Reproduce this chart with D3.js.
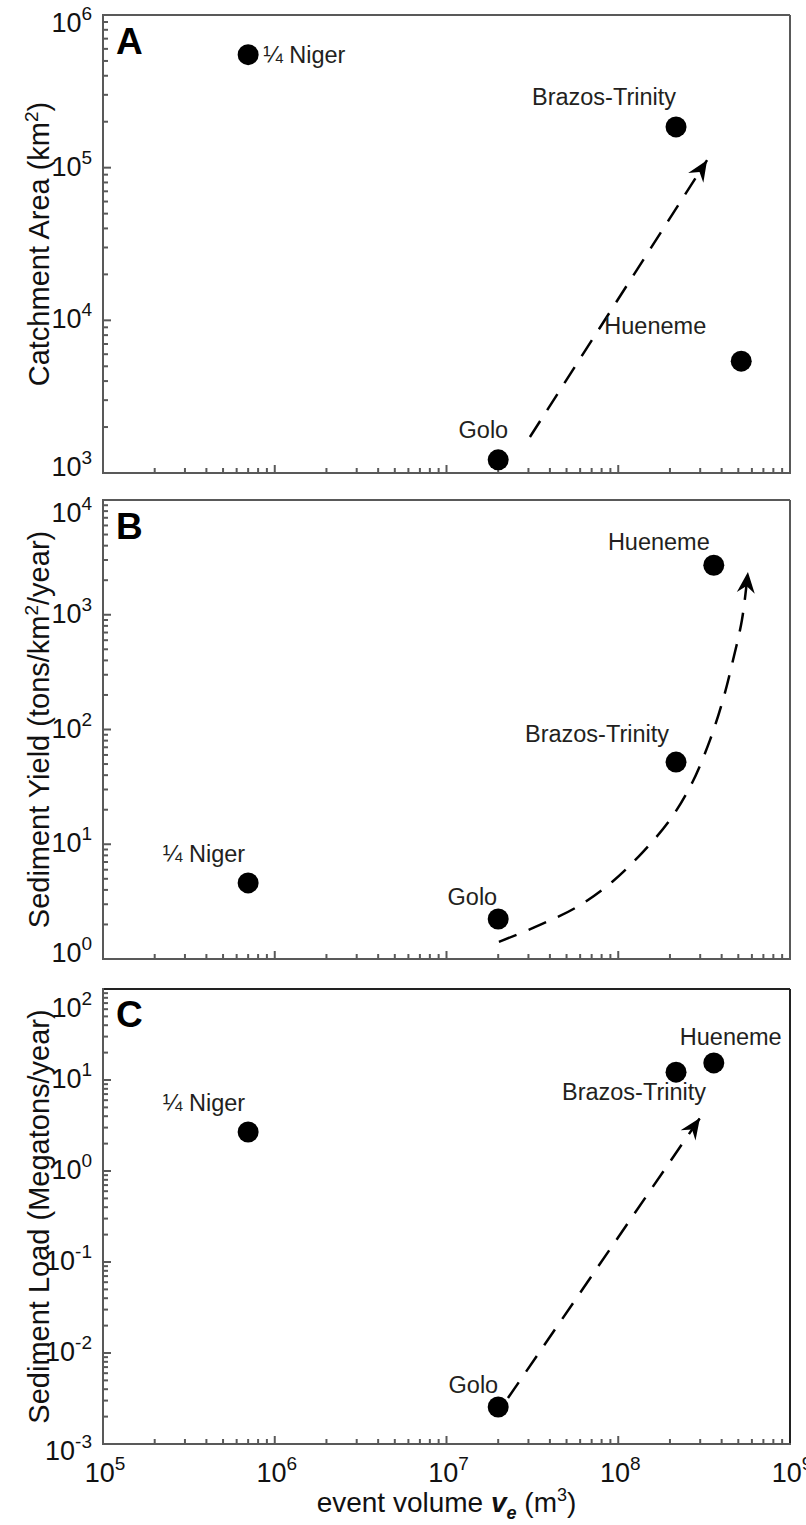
<!DOCTYPE html>
<html>
<head>
<meta charset="utf-8">
<script src="https://cdn.jsdelivr.net/npm/d3@7"></script>
<style>
  body { margin: 0; background: #fff; }
  svg { display: block; }
  text { font-family: "Liberation Sans", Arial, Helvetica, sans-serif; }
</style>
</head>
<body>
<svg id="chart" width="806" height="1525"></svg>
<script>
// ---- data ----
var rivers = ["\u00BC Niger", "Golo", "Brazos-Trinity", "Hueneme"];
var eventVolume  = [7.0e5, 2.0e7, 2.17e8, 3.6e8];   // m3 (panels B, C)
var eventVolumeA = [7.0e5, 2.0e7, 2.17e8, 5.2e8];   // panel A has Hueneme further right
var catchmentArea = [5.5e5, 1.22e3, 1.85e5, 5.4e3]; // km2
var sedimentYield = [4.6, 2.23, 52, 2.7e3];         // tons/km2/year
var sedimentLoad  = [2.68, 2.55e-3, 12.2, 15.4];    // Mt/year

// dashed trend arrows
var trendAVolume = [3.06e7, 3.29e8];
var trendAArea   = [1.72e3, 1.12e5];
var trendBVolume = [2.02e7, 3.5e7, 5.75e7, 9.2e7, 1.39e8, 2.0e8, 2.69e8, 3.42e8, 4.07e8, 4.66e8, 5.25e8, 5.69e8];
var trendBYield  = [1.41, 1.98, 2.84, 4.69, 8.55, 16.3, 34.2, 80.9, 181, 403, 900, 2360];
var trendCVolume = [2.28e7, 2.99e8];
var trendCLoad   = [3.2e-3, 3.82];

var xExponents = [5, 6, 7, 8, 9];

var svg = d3.select("#chart");
var left = 103, right = 790;
var axisColor = "#595959";

var x = d3.scaleLog().domain([1e5, 1e9]).range([left, right]);

// arrowhead
svg.append("defs").append("marker")
    .attr("id", "arrow")
    .attr("viewBox", "-22 -10 24 20")
    .attr("markerWidth", 24)
    .attr("markerHeight", 20)
    .attr("markerUnits", "userSpaceOnUse")
    .attr("refX", 0)
    .attr("refY", 0)
    .attr("orient", "auto")
  .append("path")
    .attr("d", "M0,0 L-21,-9 L-14,0 L-21,9 Z")
    .attr("fill", "#000");

var panels = [
  { letter: "A", top: 15, bottom: 473, domain: [1e3, 1e6], exps: [3, 4, 5, 6],
    label: ["Catchment Area (km", "2", ")"], xs: eventVolumeA, ys: catchmentArea,
    trendX: trendAVolume, trendY: trendAArea, curved: false,
    topShift: 17, bottomShift: 3, boxColor: axisColor,
    place: [["start", 15, 8], ["end", 10, -22], ["end", 0, -22], ["end", -35, -27]] },
  { letter: "B", top: 500, bottom: 959, domain: [1e0, 1e4], exps: [0, 1, 2, 3, 4],
    label: ["Sediment Yield (tons/km", "2", "/year)"], xs: eventVolume, ys: sedimentYield,
    trendX: trendBVolume, trendY: trendBYield, curved: true,
    topShift: 22, bottomShift: 3, boxColor: axisColor,
    place: [["end", -3, -21], ["end", -1, -14], ["end", -7, -20], ["end", -4, -15]] },
  { letter: "C", top: 989, bottom: 1444, domain: [1e-3, 1e2], exps: [-3, -2, -1, 0, 1, 2],
    label: ["Sediment Load (Megatons/year)"], xs: eventVolume, ys: sedimentLoad,
    trendX: trendCVolume, trendY: trendCLoad, curved: false,
    topShift: 28, bottomShift: 16, boxColor: "#222",
    place: [["end", -3, -21], ["end", 0, -14], ["end", 30, 28], ["start", -34, -18]] }
];

function powLabel(sel, exp) {
  sel.append("tspan").text("10");
  sel.append("tspan").attr("font-size", 19).attr("dy", -12).text(String(exp));
}

panels.forEach(function(p, pi) {
  var y = d3.scaleLog().domain(p.domain).range([p.bottom, p.top]);
  var g = svg.append("g");

  // ticks on left axis (inward)
  y.ticks().forEach(function(v) {
    var major = Math.abs(Math.log10(v) - Math.round(Math.log10(v))) < 1e-9;
    g.append("line")
      .attr("x1", left).attr("x2", left + (major ? 8 : 5))
      .attr("y1", y(v)).attr("y2", y(v))
      .attr("stroke", axisColor).attr("stroke-width", 2);
  });
  // ticks on bottom axis (inward)
  x.ticks().forEach(function(v) {
    var major = Math.abs(Math.log10(v) - Math.round(Math.log10(v))) < 1e-9;
    g.append("line")
      .attr("x1", x(v)).attr("x2", x(v))
      .attr("y1", p.bottom).attr("y2", p.bottom - (major ? 8 : 5))
      .attr("stroke", axisColor).attr("stroke-width", 2);
  });

  // frame
  g.append("line").attr("x1", left).attr("x2", right).attr("y1", p.top).attr("y2", p.top)
    .attr("stroke", p.boxColor).attr("stroke-width", 2);
  g.append("line").attr("x1", right).attr("x2", right).attr("y1", p.top).attr("y2", p.bottom)
    .attr("stroke", p.boxColor).attr("stroke-width", 2);
  g.append("line").attr("x1", left).attr("x2", left).attr("y1", p.top - 1).attr("y2", p.bottom + 1)
    .attr("stroke", axisColor).attr("stroke-width", 2);
  g.append("line").attr("x1", left - 1).attr("x2", right + 1).attr("y1", p.bottom).attr("y2", p.bottom)
    .attr("stroke", axisColor).attr("stroke-width", 2);

  // y tick labels
  p.exps.forEach(function(e, i) {
    var shift = 8;
    if (i === 0) shift = p.bottomShift;
    if (i === p.exps.length - 1) shift = p.topShift;
    var t = g.append("text")
      .attr("x", left - 11).attr("y", y(Math.pow(10, e)) + shift)
      .attr("text-anchor", "end").attr("font-size", 27).attr("fill", "#111");
    powLabel(t, e);
  });

  // y axis label
  var lab = g.append("text")
    .attr("transform", "translate(49," + ((p.top + p.bottom) / 2) + ") rotate(-90)")
    .attr("text-anchor", "middle").attr("font-size", 29).attr("fill", "#111");
  lab.append("tspan").text(p.label[0]);
  if (p.label.length > 1) {
    lab.append("tspan").attr("font-size", 19).attr("dy", -11).text(p.label[1]);
    lab.append("tspan").attr("dy", 11).text(p.label[2]);
  }

  // panel letter
  g.append("text")
    .attr("x", 116).attr("y", p.top + (pi === 2 ? 38 : 39))
    .attr("font-family", "'Open Sans', sans-serif").attr("font-weight", 700)
    .attr("font-size", 37).attr("fill", "#000")
    .text(p.letter);

  // dashed trend arrow
  var pts = p.trendX.map(function(v, i) { return [x(v), y(p.trendY[i])]; });
  var line = d3.line().curve(p.curved ? d3.curveCatmullRom : d3.curveLinear);
  g.append("path")
    .attr("d", line(pts))
    .attr("fill", "none")
    .attr("stroke", "#000")
    .attr("stroke-width", 2.5)
    .attr("stroke-dasharray", "19,13")
    .attr("marker-end", "url(#arrow)");

  // points
  rivers.forEach(function(name, i) {
    var cx = x(p.xs[i]), cy = y(p.ys[i]);
    g.append("circle").attr("cx", cx).attr("cy", cy).attr("r", 10.5).attr("fill", "#000");
    g.append("text")
      .attr("x", cx + p.place[i][1]).attr("y", cy + p.place[i][2])
      .attr("text-anchor", p.place[i][0])
      .attr("font-size", 23.5).attr("fill", "#231f20")
      .text(name);
  });
});

// x tick labels (bottom panel only)
xExponents.forEach(function(e) {
  var t = svg.append("text")
    .attr("x", x(Math.pow(10, e)) + 2).attr("y", 1482)
    .attr("text-anchor", "middle").attr("font-size", 27).attr("fill", "#111");
  powLabel(t, e);
});

// x axis label
var xl = svg.append("text")
  .attr("x", (left + right) / 2).attr("y", 1512)
  .attr("text-anchor", "middle").attr("font-size", 28).attr("fill", "#111");
xl.append("tspan").text("event volume ");
xl.append("tspan").attr("font-weight", 700).attr("font-style", "italic").text("v");
xl.append("tspan").attr("font-weight", 700).attr("font-style", "italic")
  .attr("font-size", 18).attr("dy", 7).text("e");
xl.append("tspan").attr("dy", -7).text(" (m");
xl.append("tspan").attr("font-size", 18).attr("dy", -11).text("3");
xl.append("tspan").attr("dy", 11).text(")");
</script>
</body>
</html>
